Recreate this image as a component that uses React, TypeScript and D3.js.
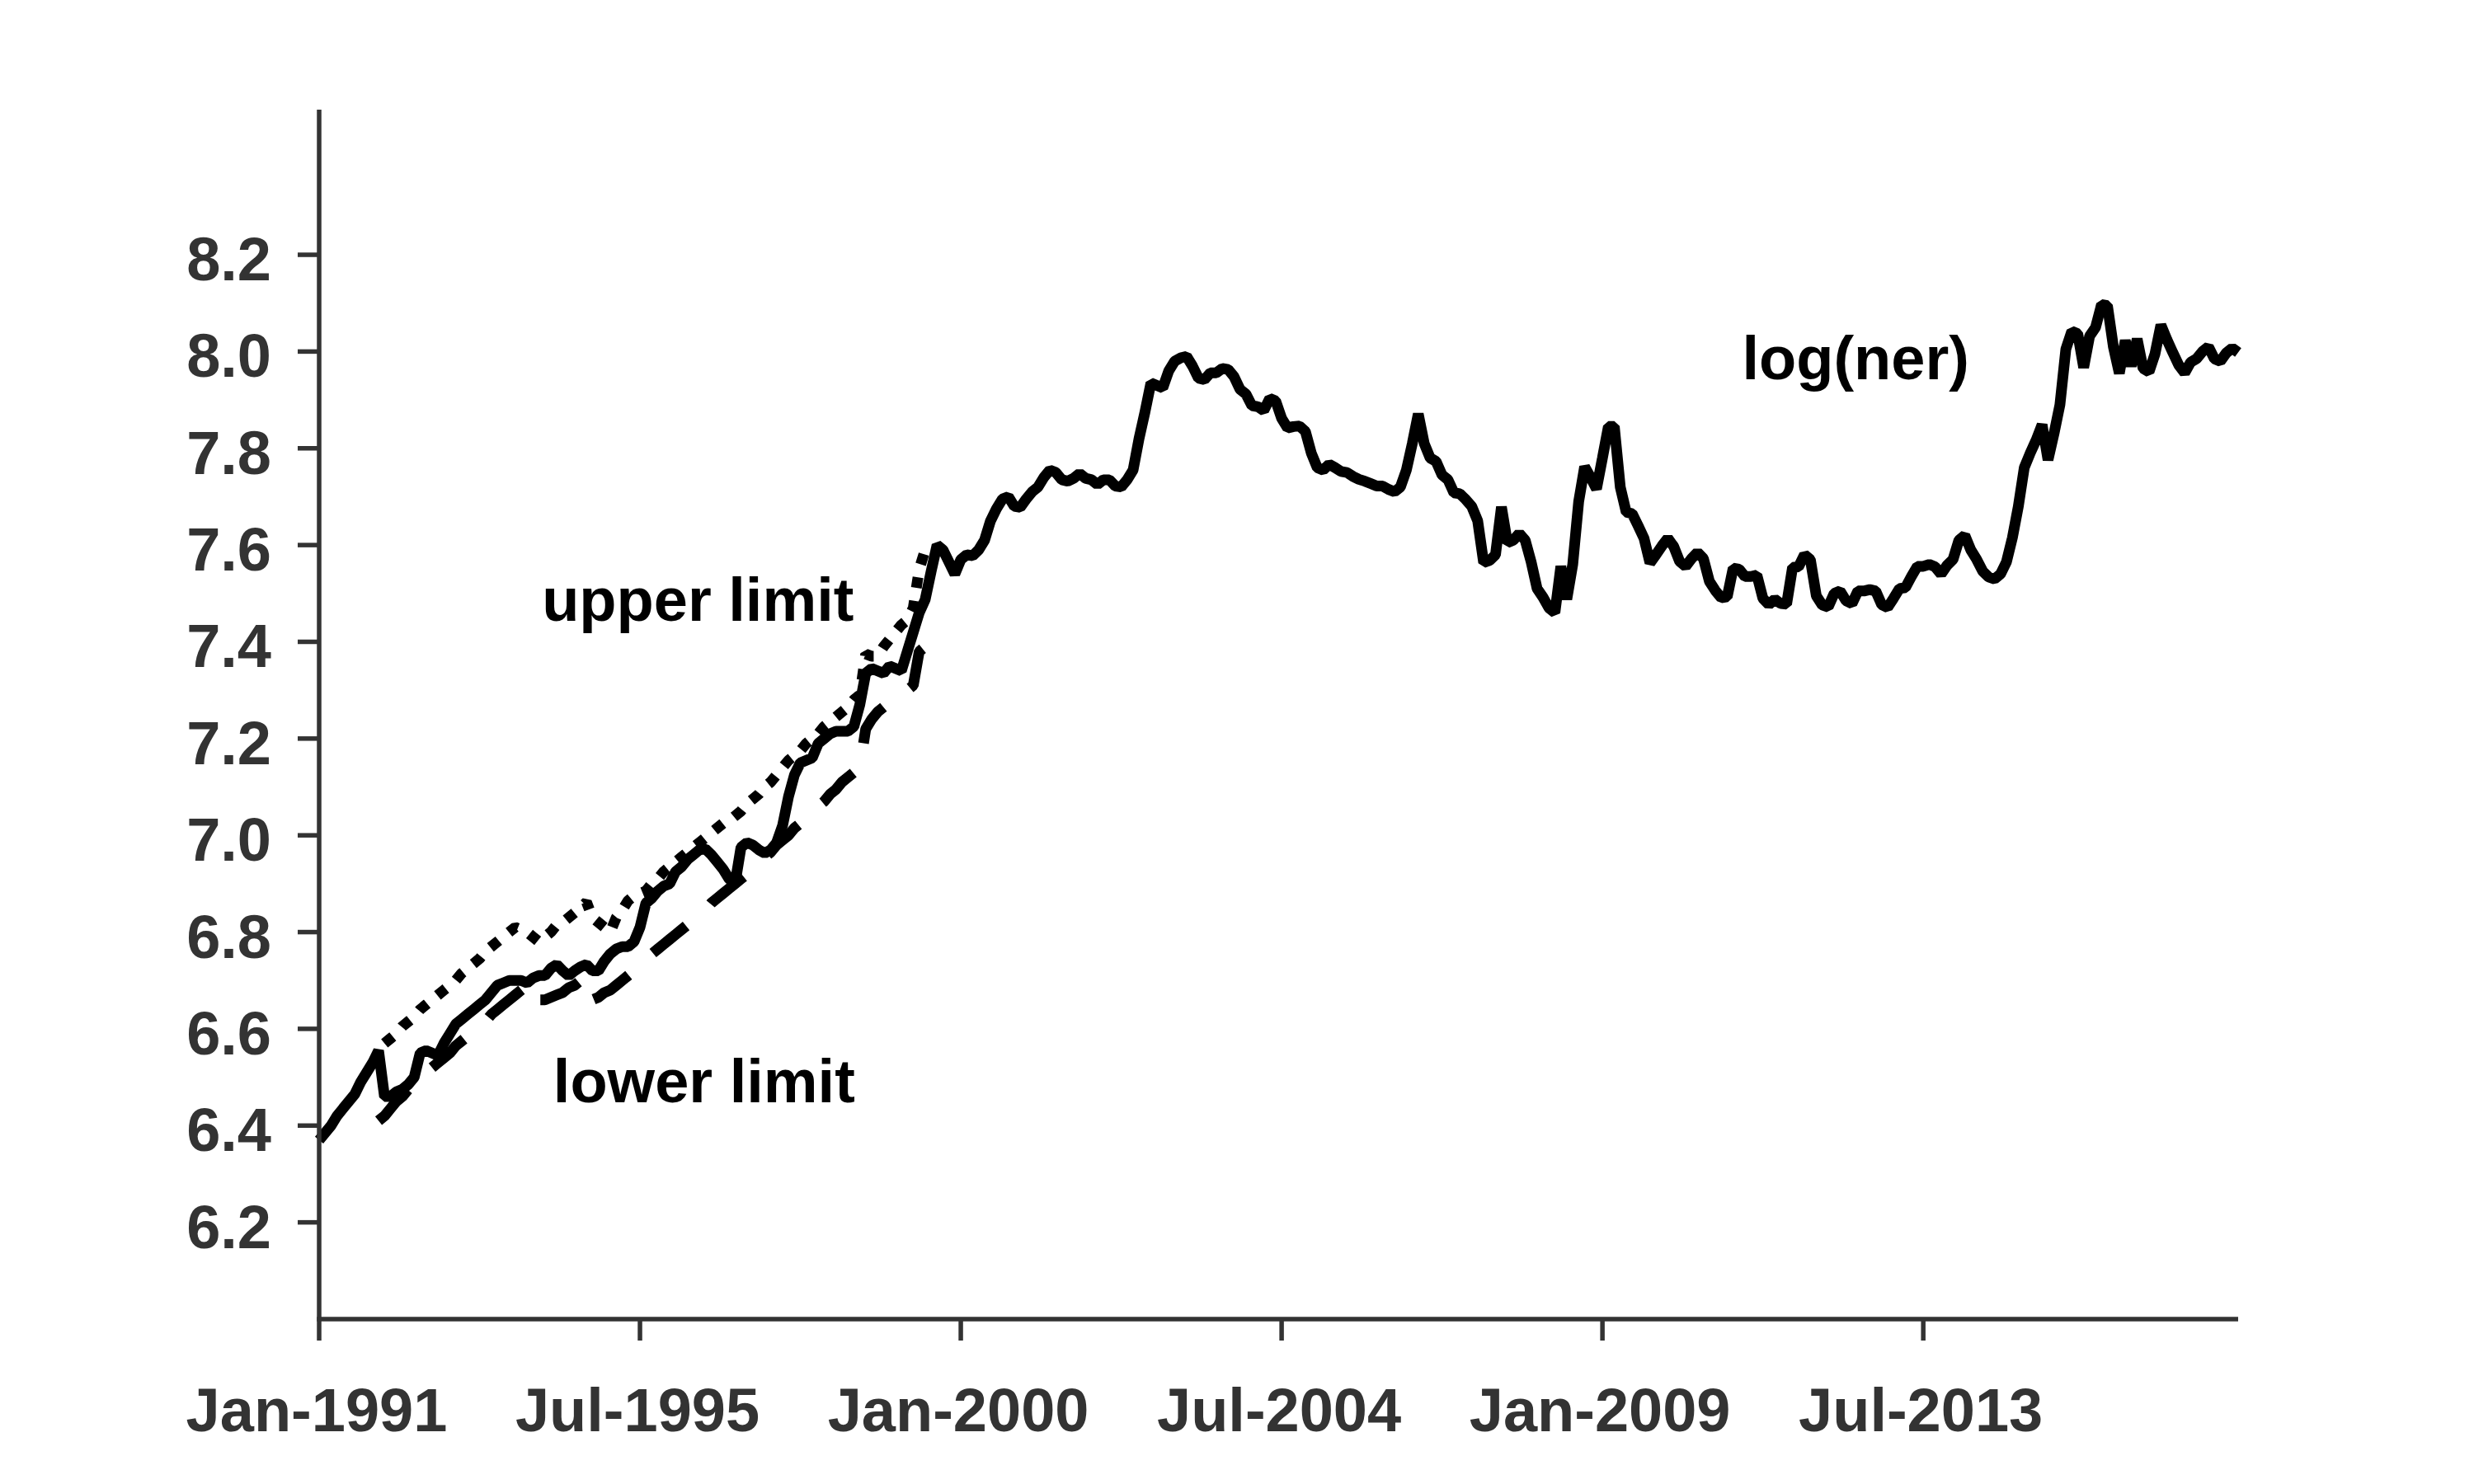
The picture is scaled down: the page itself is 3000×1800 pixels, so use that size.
import React from 'react';
import * as d3 from 'd3';

const W = 3000;
const H = 1800;

// monthly log nominal exchange rate, Jan-1991 .. Dec-2017
const logNer = [
  6.37, 6.385, 6.40, 6.42, 6.435, 6.45, 6.465, 6.49, 6.51, 6.53,
  6.555, 6.46, 6.46, 6.47, 6.475, 6.485, 6.50, 6.55, 6.555, 6.55,
  6.545, 6.57, 6.59, 6.61, 6.62, 6.63, 6.64, 6.65, 6.66, 6.675,
  6.69, 6.695, 6.70, 6.70, 6.70, 6.695, 6.705, 6.71, 6.71, 6.725,
  6.733, 6.72, 6.71, 6.72, 6.728, 6.733, 6.72, 6.72, 6.74, 6.755,
  6.765, 6.77, 6.77, 6.78, 6.81, 6.86, 6.87, 6.885, 6.895, 6.90,
  6.925, 6.935, 6.95, 6.96, 6.97, 6.972, 6.96, 6.945, 6.93, 6.91,
  6.90, 6.975, 6.985, 6.98, 6.97, 6.963, 6.97, 6.985, 7.02, 7.08,
  7.125, 7.15, 7.155, 7.16, 7.19, 7.20, 7.21, 7.215, 7.215, 7.215,
  7.225, 7.27, 7.335, 7.345, 7.34, 7.335, 7.35, 7.345, 7.34, 7.38,
  7.42, 7.46, 7.487, 7.545, 7.60, 7.59, 7.565, 7.54, 7.57, 7.58,
  7.578, 7.59, 7.61, 7.65, 7.675, 7.695, 7.70, 7.68, 7.678, 7.695,
  7.71, 7.72, 7.74, 7.755, 7.75, 7.735, 7.732, 7.738, 7.748, 7.738,
  7.735, 7.725, 7.735, 7.735, 7.722, 7.72, 7.735, 7.755, 7.82, 7.875,
  7.935, 7.93, 7.925, 7.96, 7.98, 7.987, 7.99, 7.97, 7.945, 7.942,
  7.956, 7.956, 7.965, 7.963, 7.948, 7.922, 7.912, 7.888, 7.886, 7.878,
  7.903, 7.898, 7.862, 7.842, 7.845, 7.846, 7.835, 7.79, 7.76, 7.755,
  7.767, 7.76, 7.752, 7.75, 7.742, 7.736, 7.732, 7.727, 7.722, 7.722,
  7.715, 7.71, 7.72, 7.755, 7.81, 7.871, 7.81, 7.78, 7.773, 7.745,
  7.735, 7.708, 7.706, 7.694, 7.68, 7.65, 7.564, 7.568, 7.58, 7.679,
  7.605, 7.61, 7.624, 7.61, 7.565, 7.51, 7.492, 7.47, 7.46, 7.556,
  7.488, 7.56, 7.69, 7.762, 7.74, 7.716, 7.78, 7.845, 7.845, 7.72,
  7.668, 7.665, 7.64, 7.614, 7.563, 7.58, 7.598, 7.614, 7.597, 7.566,
  7.556, 7.572, 7.585, 7.572, 7.525, 7.506, 7.491, 7.493, 7.552, 7.55,
  7.535, 7.535, 7.538, 7.49, 7.477, 7.488, 7.479, 7.478, 7.554, 7.555,
  7.58, 7.57, 7.495, 7.476, 7.472, 7.50, 7.505, 7.485, 7.479, 7.505,
  7.505, 7.508, 7.505, 7.477, 7.471, 7.49, 7.51, 7.512, 7.535, 7.556,
  7.556, 7.56, 7.555, 7.54, 7.558, 7.57, 7.61, 7.62, 7.59, 7.57,
  7.546, 7.534, 7.53, 7.54, 7.565, 7.615, 7.68, 7.76, 7.79, 7.817,
  7.849, 7.776, 7.83, 7.89, 8.005, 8.042, 8.037, 7.967, 8.032, 8.05,
  8.097, 8.095, 8.01, 7.955, 8.023, 7.97, 8.026, 7.965, 7.958, 7.995,
  8.055, 8.025, 7.998, 7.972, 7.956, 7.978, 7.985, 8.0, 8.01, 7.985,
  7.98, 7.997, 8.007, 7.998,
];

// upper limit of the band, starting at month index 11
const upperStart = 11;
const upperLimit = [
  6.57, 6.58, 6.59, 6.605, 6.615, 6.625, 6.64, 6.65, 6.66,
  6.67, 6.68, 6.69, 6.70, 6.715, 6.725, 6.735, 6.745, 6.76, 6.77,
  6.78, 6.79, 6.80, 6.81, 6.805, 6.80, 6.79, 6.78, 6.79, 6.80,
  6.815, 6.82, 6.83, 6.84, 6.85, 6.862, 6.83, 6.82, 6.81, 6.80,
  6.83, 6.845, 6.865, 6.875, 6.88, 6.885, 6.90, 6.91, 6.925, 6.935,
  6.945, 6.955, 6.965, 6.975, 6.985, 6.995, 7.005, 7.015, 7.025, 7.03,
  7.04, 7.05, 7.065, 7.075, 7.085, 7.10, 7.11, 7.125, 7.14, 7.155,
  7.165, 7.175, 7.19, 7.20, 7.21, 7.225, 7.235, 7.245, 7.255, 7.265,
  7.28, 7.29, 7.375, 7.37, 7.37, 7.39, 7.405, 7.42, 7.435, 7.445,
  7.47, 7.55, 7.59,
];

// lower limit of the band, starting at month index 10
const lowerStart = 10;
const lowerLimit = [
  6.41, 6.42, 6.435, 6.45, 6.46, 6.475, 6.485, 6.495, 6.505, 6.52,
  6.53, 6.54, 6.55, 6.565, 6.575, 6.585, 6.595, 6.605, 6.615, 6.63,
  6.64, 6.65, 6.66, 6.67, 6.68, 6.69, 6.695, 6.66, 6.66, 6.665,
  6.67, 6.675, 6.685, 6.69, 6.70, 6.705, 6.66, 6.665, 6.675, 6.68,
  6.69, 6.70, 6.71, 6.72, 6.735, 6.745, 6.755, 6.765, 6.775, 6.785,
  6.795, 6.805, 6.815, 6.825, 6.835, 6.845, 6.86, 6.87, 6.88, 6.89,
  6.90, 6.91, 6.92, 6.93, 6.94, 6.955, 6.965, 6.98, 6.99, 7.00,
  7.015, 7.025, 7.035, 7.05, 7.06, 7.07, 7.085, 7.095, 7.11, 7.12,
  7.13, 7.14, 7.22, 7.24, 7.255, 7.265, 7.275, 7.285, 7.29, 7.30,
  7.31, 7.38, 7.39, 7.375,
];

const xTickMonths = [0, 54, 108, 162, 216, 270];
const xTickLabels = ['Jan-1991', 'Jul-1995', 'Jan-2000', 'Jul-2004', 'Jan-2009', 'Jul-2013'];
const yTicks = [6.2, 6.4, 6.6, 6.8, 7.0, 7.2, 7.4, 7.6, 7.8, 8.0, 8.2];

const annotations = [
  { text: 'upper limit', month: 37.5, value: 7.443 },
  { text: 'lower limit', month: 39.4, value: 6.448 },
  { text: 'log(ner)', month: 239.5, value: 7.942 },
];

const FONT = '"Liberation Sans", Arial, Helvetica, sans-serif';
const AXIS = '#333333';

export default function App() {
  const x = d3.scaleLinear().domain([0, logNer.length - 1]).range([387, 2714]);
  const y = d3.scaleLinear().domain([6.0, 8.5]).range([1600, 133]);
  const line = d3
    .line<number>()
    .x((_, i) => x(i))
    .y((d) => y(d));
  const lineOffset = (start: number) =>
    d3
      .line<number>()
      .x((_, i) => x(i + start))
      .y((d) => y(d));

  const [x0, x1] = x.range();
  const [y0, y1] = y.range();

  return (
    <svg
      width={W}
      height={H}
      viewBox={`0 0 ${W} ${H}`}
      style={{ position: 'absolute', left: 0, top: 0, background: '#fff', display: 'block' }}
    >
      <rect x={0} y={0} width={W} height={H} fill="#fff" />
      {/* series */}
      <path
        d={lineOffset(upperStart)(upperLimit) || ''}
        fill="none"
        stroke="#000"
        strokeWidth={13}
        strokeDasharray="13,16"
        strokeLinejoin="bevel"
      />
      <path
        d={lineOffset(lowerStart)(lowerLimit) || ''}
        fill="none"
        stroke="#000"
        strokeWidth={13}
        strokeDasharray="52,40"
        strokeLinejoin="bevel"
      />
      <path d={line(logNer) || ''} fill="none" stroke="#000" strokeWidth={13} strokeLinejoin="bevel" />

      {/* axes */}
      <g stroke={AXIS} strokeWidth={5.5} fill="none">
        <line x1={x0} x2={x0} y1={y0} y2={y1} />
        <line x1={x0 - 2.75} x2={x1} y1={y0} y2={y0} />
        {yTicks.map((t) => (
          <line key={t} x1={x0 - 26} x2={x0} y1={y(t)} y2={y(t)} />
        ))}
        {xTickMonths.map((m) => (
          <line key={m} x1={x(m)} x2={x(m)} y1={y0} y2={y0 + 26} />
        ))}
      </g>
      <g fontFamily={FONT} fontWeight="bold" fontSize={74} fill={AXIS}>
        {yTicks.map((t) => (
          <text key={t} x={x0 - 58} y={y(t) + 31} textAnchor="end">
            {t.toFixed(1)}
          </text>
        ))}
        {xTickMonths.map((m, i) => (
          <text key={m} x={x(m) - 3} y={1736} textAnchor="middle">
            {xTickLabels[i]}
          </text>
        ))}
      </g>
      <g fontFamily={FONT} fontWeight="bold" fontSize={74} fill="#000">
        {annotations.map((a) => (
          <text key={a.text} x={x(a.month)} y={y(a.value)}>
            {a.text}
          </text>
        ))}
      </g>
    </svg>
  );
}
